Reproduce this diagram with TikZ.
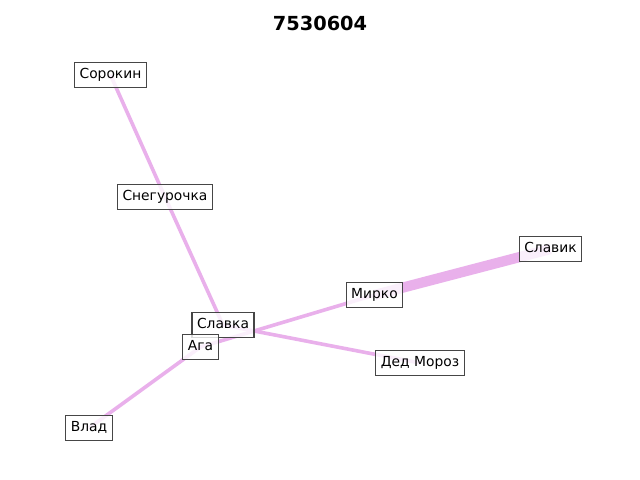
\documentclass[tikz,border=0pt]{standalone}
\usepackage{fontspec}
\setmainfont{DejaVu Sans}
\definecolor{edgecol}{RGB}{233,176,235}
\definecolor{boxline}{RGB}{70,70,70}
\begin{document}
\begin{tikzpicture}[x=0.254mm,y=-0.254mm,
  lbl/.style={draw=boxline,line width=0.8pt,fill=white,fill opacity=0.8,text opacity=1,
    draw opacity=1,font=\fontsize{10}{12}\selectfont,inner xsep=3.6pt,inner ysep=0pt,
    minimum height=17.6pt,text height=7.4pt,text depth=2.2pt},
  link/.style={draw=edgecol,line width=2.6pt},
  heavy/.style={draw=edgecol,line width=7.4pt}]
\useasboundingbox (0,0) rectangle (640,480);
\fill[white] (0,0) rectangle (640,480);

% node positions
\coordinate (sorokin) at (110.5,75);
\coordinate (sneg) at (165,197);
\coordinate (slavik) at (550.5,249);
\coordinate (mirko) at (374.5,295);
\coordinate (slavka) at (223,325);
\coordinate (aga) at (200.5,347);
\coordinate (ded) at (420,363);
\coordinate (vlad) at (89,428);

% edges
\draw[link] (sorokin) -- (sneg);
\draw[link] (sneg) -- (slavka);
\draw[link] (slavka) -- (ded);
\draw[link] (mirko) -- (aga);
\draw[link] (aga) -- (vlad);
\draw[heavy] (mirko) -- (slavik);

% labels
\node[lbl] (nsorokin) at (sorokin) {Сорокин};
\node[lbl] (nsneg) at (sneg) {Снегурочка};
\node[lbl] (nslavik) at (slavik) {Славик};
\node[lbl] (nmirko) at (mirko) {Мирко};
\node[lbl] (nslavka) at (slavka) {Славка};
\node[lbl] (naga) at (aga) {Ага};
\node[lbl] (nded) at (ded) {Дед Мороз};
\node[lbl] (nvlad) at (vlad) {Влад};

\node[font=\fontsize{14}{16}\selectfont\bfseries] (title) at (320,23) {7530604};
\end{tikzpicture}
\end{document}
